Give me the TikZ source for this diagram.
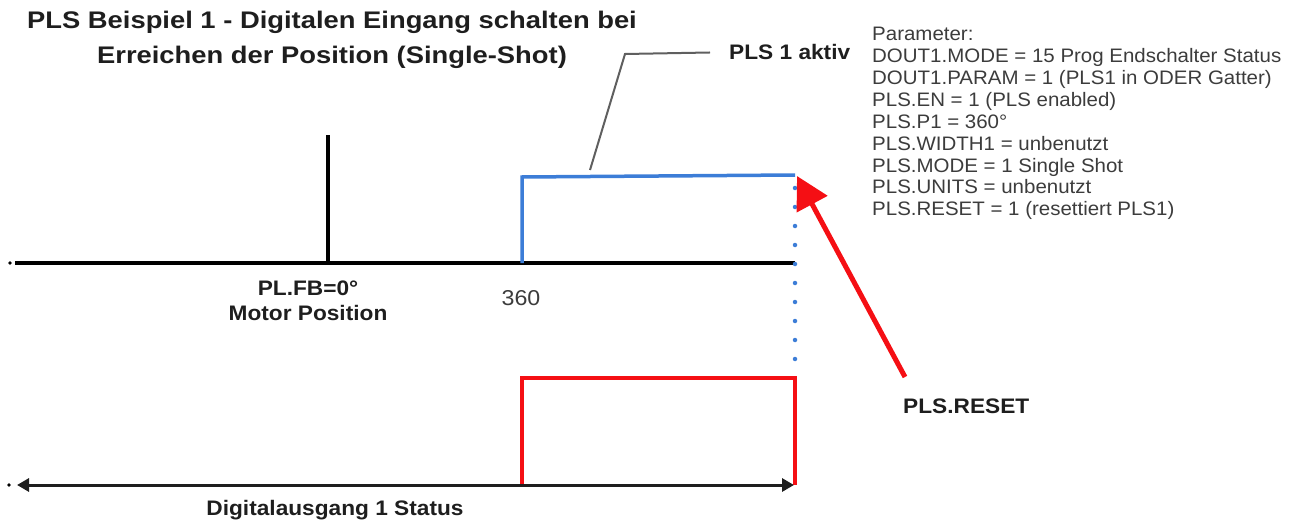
\documentclass[tikz,border=0pt]{standalone}
\usepackage{fontspec}
\setmainfont{Liberation Sans}
\newfontfamily\titlefont[FakeStretch=1.14]{Liberation Sans}
\newfontfamily\lblfont[FakeStretch=1.08]{Liberation Sans}
\newfontfamily\parfont[FakeStretch=1.05]{Liberation Sans}
\usepackage{xcolor}
\usepackage{tikz}
\usetikzlibrary{arrows, arrows.meta, positioning, calc}
\definecolor{plsblue}{RGB}{60, 125, 215}
\definecolor{plsred}{RGB}{245, 15, 20}
\definecolor{plsgray}{RGB}{95, 95, 95}
\definecolor{plsdark}{RGB}{30, 30, 30}
\definecolor{plstext}{RGB}{60, 60, 60}
\tikzset{
    lbl/.style={inner sep=0pt, anchor=base, text=plsdark,
        font=\lblfont\fontsize{21}{25}\selectfont\bfseries},
    axis/.style={line width=4pt, draw=black},
    bluesig/.style={line width=3.5pt, draw=plsblue, line join=miter},
    redsig/.style={line width=4pt, draw=plsred, line join=miter},
    dotline/.style={line width=4.5pt, draw=plsblue, line cap=round,
        dash pattern=on 0pt off 19pt},
    leader/.style={line width=2pt, draw=plsgray},
    redarrow/.style={line width=5pt, draw=plsred,
        -{Triangle[length=32pt, width=34pt]}},
    timearrow/.style={line width=3pt, draw=plsdark,
        {Triangle[length=12pt, width=13pt]}-{Triangle[length=12pt, width=13pt]}},
}

\begin{document}
\begin{tikzpicture}[x=1pt, y=-1pt]
    \useasboundingbox (0,0) rectangle (1292,524);

    % titel
    \node[lbl, font=\titlefont\fontsize{24}{35}\selectfont\bfseries, align=center, anchor=north]
        (title) at (332,11) {PLS Beispiel 1 - Digitalen Eingang schalten bei\\
        Erreichen der Position (Single-Shot)};

    % parameter liste
    \node[inner sep=0pt, anchor=north west, align=left, text=plstext,
          font=\parfont\fontsize{19.5}{21.9}\selectfont]
        (params) at (872,27) {Parameter:\\
        DOUT1.MODE = 15 Prog Endschalter Status\\
        DOUT1.PARAM = 1 (PLS1 in ODER Gatter)\\
        PLS.EN = 1 (PLS enabled)\\
        PLS.P1 = 360°\\
        PLS.WIDTH1 = unbenutzt\\
        PLS.MODE = 1 Single Shot\\
        PLS.UNITS = unbenutzt\\
        PLS.RESET = 1 (resettiert PLS1)};

    % achse motor position
    \coordinate (ax0) at (15,263);
    \coordinate (ax1) at (795,263);
    \coordinate (fb) at (328,263);
    \coordinate (fbtop) at (328,135);
    \fill (10,263) circle (1.8pt);
    \draw[axis] (ax0) -- (ax1);
    \draw[axis] (fb) -- (fbtop);
    \node[lbl] (fblbl) at (308,295) {PL.FB=0°};
    \node[lbl] (motorpos) at (308,320) {Motor Position};
    \node[lbl, font=\lblfont\fontsize{21.5}{25}\selectfont, text=plstext] (pos360) at (521,305) {360};

    % pls signal
    \coordinate (p0) at (522,263);
    \coordinate (p1) at (522,177);
    \coordinate (p2) at (795,175);
    \draw[bluesig] (p0) -- (p1) -- (p2);
    \coordinate (d0) at (795,188);
    \coordinate (d1) at (795,372);
    \draw[dotline] (d0) -- (d1);

    \node[lbl, anchor=base west] (aktiv) at (729,60) {PLS 1 aktiv};
    \coordinate (k0) at (590,170);
    \coordinate (k1) at (625,54);
    \draw[leader] (k0) -- (k1) -- (aktiv.west -| 710,0);

    % digitalausgang
    \coordinate (r0) at (522,485);
    \coordinate (r1) at (522,378);
    \coordinate (r2) at (795,378);
    \coordinate (r3) at (795,485);
    \draw[redsig] (r0) -- (r1) -- (r2) -- (r3);
    \coordinate (t0) at (17,485);
    \coordinate (t1) at (794,485);
    \fill (9,485) circle (1.8pt);
    \draw[timearrow] (t0) -- (t1);
    \node[lbl] (doutlbl) at (335,515) {Digitalausgang 1 Status};

    % reset
    \node[lbl, anchor=base west] (reset) at (903,413) {PLS.RESET};
    \coordinate (a0) at (905,377);
    \coordinate (a1) at (797,176);
    \draw[redarrow] (a0) -- (a1);
\end{tikzpicture}
\end{document}
